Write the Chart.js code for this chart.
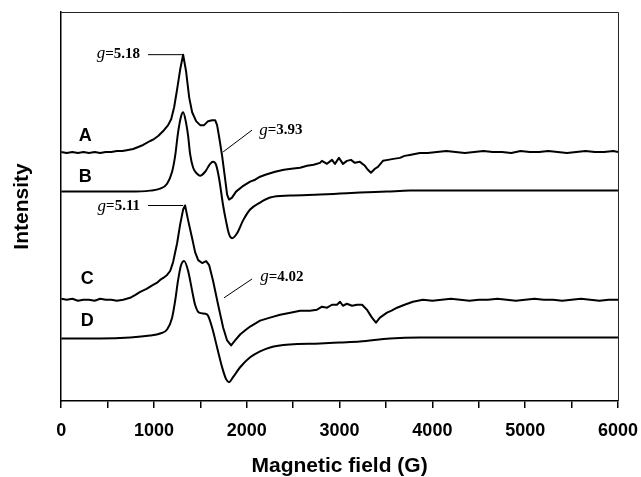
<!DOCTYPE html>
<html>
<head>
<meta charset="utf-8">
<script src="https://cdn.jsdelivr.net/npm/chart.js@4.4.1/dist/chart.umd.min.js"></script>
<style>
  body { margin: 0; background: #fff; }
  canvas { display: block; }
</style>
</head>
<body>
<canvas id="chart" width="641" height="477"></canvas>
<script>
// EPR spectra - field in G, intensity in arbitrary units (traces are offset)
const fieldA = [0, 60, 120, 180, 240, 300, 360, 420, 480, 540, 600, 660, 720, 775, 830, 883, 958, 1000, 1045, 1099, 1152, 1185, 1217, 1249, 1282, 1314, 1346, 1379, 1411, 1454, 1497, 1540, 1583, 1626, 1659, 1680, 1702, 1734, 1766, 1788, 1809, 1841, 1884, 1949, 2036, 2090, 2143, 2200, 2305, 2400, 2480, 2574, 2650, 2720, 2789, 2810, 2864, 2918, 2950, 2993, 3036, 3079, 3122, 3165, 3219, 3273, 3305, 3338, 3381, 3413, 3467, 3521, 3580, 3650, 3700, 3757, 3810, 3865, 3950, 4048, 4150, 4250, 4350, 4450, 4550, 4650, 4750, 4850, 4950, 5050, 5150, 5250, 5350, 5450, 5550, 5650, 5750, 5850, 5950, 6000];
const intensityA = [251, 250, 251, 250, 251, 250, 251, 250, 251, 251, 252, 252, 253, 254, 256, 258, 262, 264, 267, 272, 278, 284, 296, 314, 334, 349, 332, 306, 291, 282, 278, 278, 282, 283, 283, 278, 266, 247, 224, 208, 203, 205, 211, 216, 221, 223, 226, 228, 231, 233, 234, 235, 237, 238, 240, 242, 239, 243, 239, 245, 239, 242, 243, 240, 241, 237, 233, 230, 234, 236, 242, 243, 244, 245, 247, 248, 249, 250, 250, 251, 252, 251, 250, 251, 252, 251, 251, 250, 252, 251, 251, 252, 251, 250, 251, 252, 251, 251, 252, 251];

const fieldB = [0, 420, 743, 958, 1066, 1141, 1195, 1228, 1260, 1292, 1314, 1346, 1368, 1389, 1422, 1465, 1497, 1551, 1605, 1637, 1669, 1702, 1745, 1777, 1809, 1841, 1895, 1960, 2036, 2143, 2251, 2466, 2789, 3005, 3220, 3511, 3759, 4082, 6000];
const intensityB = [211, 211, 211, 212, 214, 219, 231, 247, 271, 287, 291, 280, 267, 249, 235, 229, 227, 231, 239, 241, 238, 224, 197, 181, 168, 164, 169, 182, 193, 200, 205, 207, 208, 209, 210, 211, 212, 212, 212];

const fieldC = [0, 60, 120, 180, 240, 300, 360, 420, 480, 540, 600, 668, 743, 800, 851, 920, 990, 1030, 1066, 1100, 1141, 1174, 1206, 1249, 1282, 1314, 1335, 1368, 1411, 1443, 1476, 1519, 1562, 1594, 1637, 1691, 1745, 1788, 1831, 1874, 1928, 1980, 2036, 2090, 2143, 2250, 2359, 2470, 2574, 2680, 2757, 2811, 2865, 2918, 2972, 3005, 3036, 3079, 3134, 3188, 3242, 3295, 3349, 3392, 3435, 3511, 3560, 3619, 3700, 3790, 3898, 4000, 4100, 4200, 4300, 4400, 4500, 4600, 4700, 4800, 4900, 5000, 5100, 5200, 5300, 5400, 5500, 5600, 5700, 5800, 5900, 6000];
const intensityC = [103, 102, 103, 101, 102, 102, 101, 103, 102, 102, 101, 102, 104, 107, 110, 113, 117, 119, 122, 124, 127, 131, 140, 159, 178, 193, 197, 182, 164, 150, 142, 139, 141, 137, 121, 97, 74, 61, 56, 61, 67, 71, 75, 78, 81, 84, 87, 89, 91, 91, 92, 95, 94, 97, 97, 100, 96, 98, 96, 97, 97, 92, 84, 79, 84, 89, 91, 94, 97, 100, 102, 101, 102, 103, 102, 101, 102, 102, 103, 102, 101, 102, 103, 102, 102, 101, 102, 103, 102, 101, 102, 102];

const fieldD = [0, 420, 743, 958, 1066, 1141, 1195, 1228, 1260, 1292, 1325, 1368, 1411, 1443, 1486, 1551, 1583, 1626, 1680, 1734, 1777, 1809, 1852, 1928, 2036, 2143, 2251, 2466, 2789, 3005, 3220, 3543, 3866, 6000];
const intensityD = [63, 63, 64, 66, 68, 72, 84, 101, 122, 137, 141, 131, 111, 97, 89, 88, 86, 74, 54, 34, 22, 19, 24, 34, 44, 50, 54, 57, 58, 59, 60, 63, 64, 64];

const traceNames = ['A', 'B', 'C', 'D'];
const noisy = [true, false, true, false];   // experimental (A, C) vs simulated (B, D)
const xTicks = [0, 1000, 2000, 3000, 4000, 5000, 6000];

// label spots and g-value notes, in data units
const traceLabels = [
    { text: 'A', x: 258, y: 267 },
    { text: 'B', x: 258, y: 226 },
    { text: 'C', x: 280, y: 123 },
    { text: 'D', x: 280, y: 81 },
];
const gNotes = [
    { value: '5.18', align: 'right', at: [850, 350], from: [935, 349], to: [1320, 349] },
    { value: '3.93', align: 'left', at: [2135, 273], from: [2057, 273], to: [1745, 251] },
    { value: '5.11', align: 'right', at: [850, 196], from: [935, 197], to: [1314, 197] },
    { value: '4.02', align: 'left', at: [2145, 125], from: [2057, 123], to: [1755, 104] },
];

function toPoints(xs, ys) {
    return xs.map((x, i) => ({ x: x, y: ys[i] }));
}

const series = [
    toPoints(fieldA, intensityA),
    toPoints(fieldB, intensityB),
    toPoints(fieldC, intensityC),
    toPoints(fieldD, intensityD),
];

const frameAndNotes = {
    id: 'frameAndNotes',
    afterDraw(chart) {
        const { ctx, chartArea, scales } = chart;
        const px = v => scales.x.getPixelForValue(v);
        const py = v => scales.y.getPixelForValue(v);
        ctx.save();
        // top and right frame
        ctx.strokeStyle = '#222';
        ctx.lineWidth = 1;
        ctx.beginPath();
        ctx.moveTo(chartArea.left, chartArea.top + 0.5);
        ctx.lineTo(chartArea.right + 0.5, chartArea.top + 0.5);
        ctx.lineTo(chartArea.right + 0.5, chartArea.bottom);
        ctx.stroke();

        // A B C D
        ctx.fillStyle = '#000';
        ctx.font = 'bold 18px "Liberation Sans", Arial, sans-serif';
        ctx.textAlign = 'center';
        ctx.textBaseline = 'middle';
        traceLabels.forEach(l => ctx.fillText(l.text, px(l.x), py(l.y)));

        // g = ... notes with leader lines
        ctx.strokeStyle = '#000';
        ctx.lineWidth = 1;
        gNotes.forEach(n => {
            ctx.beginPath();
            ctx.moveTo(px(n.from[0]), py(n.from[1]));
            ctx.lineTo(px(n.to[0]), py(n.to[1]));
            ctx.stroke();

            const gFont = 'italic 17px "Liberation Serif", serif';
            const vFont = 'bold 15px "Liberation Serif", serif';
            const rest = '=' + n.value;
            ctx.font = gFont;
            const gw = ctx.measureText('g').width;
            ctx.font = vFont;
            const rw = ctx.measureText(rest).width;
            let x0 = px(n.at[0]);
            if (n.align === 'right') x0 -= gw + rw;
            const y0 = py(n.at[1]);
            ctx.textAlign = 'left';
            ctx.textBaseline = 'middle';
            ctx.font = gFont;
            ctx.fillText('g', x0, y0);
            ctx.font = vFont;
            ctx.fillText(rest, x0 + gw, y0);
        });
        ctx.restore();
    }
};

new Chart(document.getElementById('chart'), {
    type: 'line',
    data: {
        datasets: series.map((pts, i) => ({
            label: traceNames[i],
            data: pts,
            borderColor: '#000',
            borderWidth: 2,
            pointRadius: 0,
            fill: false,
            borderJoinStyle: 'round',
            tension: 0,
            cubicInterpolationMode: noisy[i] ? 'default' : 'monotone'
        }))
    },
    options: {
        responsive: false,
        animation: false,
        layout: { padding: { top: 12, right: 20, left: 0, bottom: 0 } },
        plugins: {
            legend: { display: false },
            tooltip: { enabled: false }
        },
        scales: {
            x: {
                type: 'linear',
                min: 0,
                max: 6000,
                ticks: {
                    stepSize: 500,
                    autoSkip: false,
                    maxRotation: 0,
                    padding: 3,
                    color: '#000',
                    font: { family: '"Liberation Sans", Arial, sans-serif', size: 18, weight: 'bold', lineHeight: 2.2 },
                    callback: v => xTicks.includes(v) ? String(v) : ''
                },
                grid: { drawOnChartArea: false, drawTicks: true, tickLength: 7, color: '#000', lineWidth: 1.5 },
                border: { color: '#000', width: 1.5 },
                title: {
                    display: true,
                    text: 'Magnetic field (G)',
                    color: '#000',
                    font: { family: '"Liberation Sans", Arial, sans-serif', size: 21, weight: 'bold', lineHeight: 1.0 },
                    padding: { top: 2.4, bottom: 0 }
                }
            },
            y: {
                min: 0,
                max: 392,
                ticks: { display: false },
                grid: { display: false, drawTicks: false },
                border: { color: '#000', width: 1.5 },
                title: {
                    display: true,
                    text: 'Intensity',
                    color: '#000',
                    font: { family: '"Liberation Sans", Arial, sans-serif', size: 21, weight: 'bold' },
                    padding: { top: 10, bottom: 26 }
                }
            }
        }
    },
    plugins: [frameAndNotes]
});
</script>
</body>
</html>
